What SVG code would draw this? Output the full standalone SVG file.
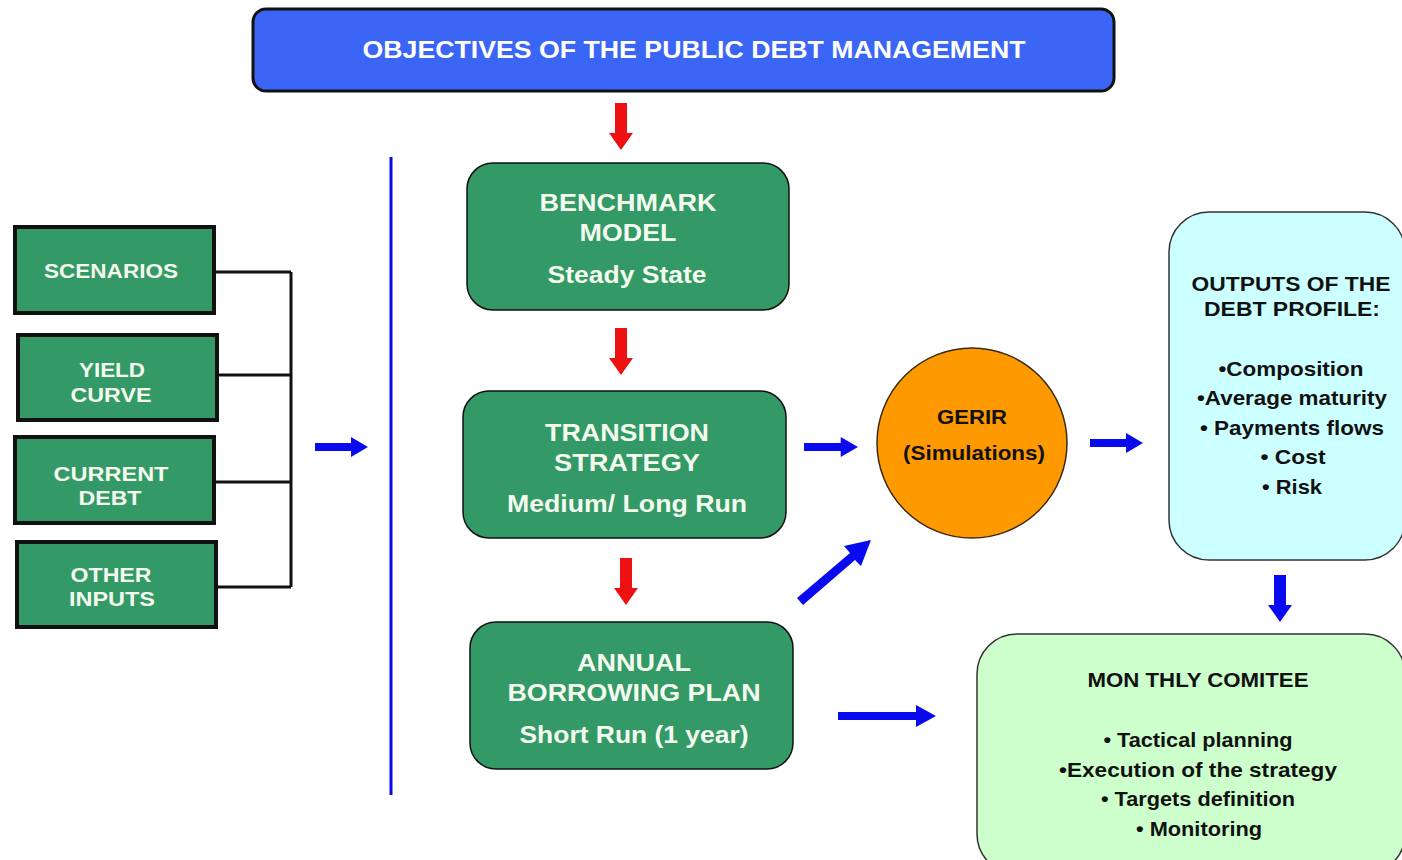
<svg xmlns="http://www.w3.org/2000/svg" width="1402" height="860" viewBox="0 0 1402 860">
  <style>
    .t { font-family: "Liberation Sans", Arial, sans-serif; font-weight: bold; text-anchor: middle; }
    .w { fill: #f4fbee; }
    .k { fill: #111; }
    .green { fill: #339966; stroke: #111; }
    .inbox { stroke-width: 4; }
    .stage { stroke-width: 1.5; }
    .blue { fill: #0a0aee; }
    .red { fill: #ee1111; }
  </style>
  <defs>
    <!-- block arrow pointing right, origin at tail centre, length 50 -->
    <polygon id="arrowR" points="0,-4 34,-4 34,-10 50,0 34,10 34,4 0,4"/>
    <!-- block arrow pointing down, origin at tail centre, length 47 -->
    <polygon id="arrowD" points="-6,0 6,0 6,30 12,30 0,47 -12,30 -6,30"/>
  </defs>
  <rect width="1402" height="860" fill="#ffffff"/>

  <g id="objectives">
    <rect x="253" y="9" width="861" height="82" rx="13" fill="#3b66f5" stroke="#111" stroke-width="3"/>
    <text class="t" x="694" y="58" font-size="24" fill="#ffffff" textLength="663" lengthAdjust="spacingAndGlyphs">OBJECTIVES OF THE PUBLIC DEBT MANAGEMENT</text>
  </g>

  <g id="scenarios">
    <rect class="green inbox" x="15" y="227" width="199" height="86"/>
    <text class="t w" x="111" y="278" font-size="21" textLength="134" lengthAdjust="spacingAndGlyphs">SCENARIOS</text>
  </g>
  <g id="yield-curve">
    <rect class="green inbox" x="18" y="335" width="199" height="85"/>
    <text class="t w" x="112" y="377" font-size="21" textLength="66" lengthAdjust="spacingAndGlyphs">YIELD</text>
    <text class="t w" x="111" y="402" font-size="21" textLength="81" lengthAdjust="spacingAndGlyphs">CURVE</text>
  </g>
  <g id="current-debt">
    <rect class="green inbox" x="15" y="437" width="199" height="86"/>
    <text class="t w" x="111" y="481" font-size="21" textLength="115" lengthAdjust="spacingAndGlyphs">CURRENT</text>
    <text class="t w" x="110" y="505" font-size="21" textLength="63" lengthAdjust="spacingAndGlyphs">DEBT</text>
  </g>
  <g id="other-inputs">
    <rect class="green inbox" x="17" y="542" width="199" height="85"/>
    <text class="t w" x="111" y="582" font-size="21" textLength="81" lengthAdjust="spacingAndGlyphs">OTHER</text>
    <text class="t w" x="112" y="606" font-size="21" textLength="86" lengthAdjust="spacingAndGlyphs">INPUTS</text>
  </g>

  <g id="benchmark">
    <rect class="green stage" x="467" y="163" width="322" height="147" rx="26"/>
    <text class="t w" x="628" y="211" font-size="24" textLength="177" lengthAdjust="spacingAndGlyphs">BENCHMARK</text>
    <text class="t w" x="628" y="241" font-size="24" textLength="97" lengthAdjust="spacingAndGlyphs">MODEL</text>
    <text class="t w" x="627" y="283" font-size="24" textLength="159" lengthAdjust="spacingAndGlyphs">Steady State</text>
  </g>
  <g id="transition">
    <rect class="green stage" x="463" y="391" width="323" height="147" rx="26"/>
    <text class="t w" x="627" y="441" font-size="24" textLength="164" lengthAdjust="spacingAndGlyphs">TRANSITION</text>
    <text class="t w" x="627" y="471" font-size="24" textLength="146" lengthAdjust="spacingAndGlyphs">STRATEGY</text>
    <text class="t w" x="627" y="512" font-size="24" textLength="240" lengthAdjust="spacingAndGlyphs">Medium/ Long Run</text>
  </g>
  <g id="annual-plan">
    <rect class="green stage" x="470" y="622" width="323" height="147" rx="26"/>
    <text class="t w" x="634" y="671" font-size="24" textLength="114" lengthAdjust="spacingAndGlyphs">ANNUAL</text>
    <text class="t w" x="634" y="701" font-size="24" textLength="253" lengthAdjust="spacingAndGlyphs">BORROWING PLAN</text>
    <text class="t w" x="634" y="743" font-size="24" textLength="229" lengthAdjust="spacingAndGlyphs">Short Run (1 year)</text>
  </g>

  <g id="gerir">
    <circle cx="972" cy="443" r="95" fill="#ff9900" stroke="#3a2a10" stroke-width="1.5"/>
    <text class="t k" x="972" y="424" font-size="21" textLength="70" lengthAdjust="spacingAndGlyphs">GERIR</text>
    <text class="t k" x="974" y="460" font-size="21" textLength="142" lengthAdjust="spacingAndGlyphs">(Simulations)</text>
  </g>

  <g id="outputs">
    <rect x="1169" y="212" width="236" height="348" rx="40" fill="#ccffff" stroke="#333" stroke-width="1.5"/>
    <text class="t k" x="1291" y="291" font-size="21" textLength="199" lengthAdjust="spacingAndGlyphs">OUTPUTS OF THE</text>
    <text class="t k" x="1292" y="316" font-size="21" textLength="176" lengthAdjust="spacingAndGlyphs">DEBT PROFILE:</text>
    <text class="t k" x="1291" y="376" font-size="21" textLength="145" lengthAdjust="spacingAndGlyphs">•Composition</text>
    <text class="t k" x="1292" y="405" font-size="21" textLength="190" lengthAdjust="spacingAndGlyphs">•Average maturity</text>
    <text class="t k" x="1292" y="435" font-size="21" textLength="184" lengthAdjust="spacingAndGlyphs">• Payments flows</text>
    <text class="t k" x="1293" y="464" font-size="21" textLength="65" lengthAdjust="spacingAndGlyphs">• Cost</text>
    <text class="t k" x="1292" y="494" font-size="21" textLength="60" lengthAdjust="spacingAndGlyphs">• Risk</text>
  </g>

  <g id="monthly-comitee">
    <rect x="977" y="634" width="428" height="240" rx="40" fill="#ccffcc" stroke="#333" stroke-width="1.5"/>
    <text class="t k" x="1198" y="687" font-size="21" textLength="221" lengthAdjust="spacingAndGlyphs">MON THLY COMITEE</text>
    <text class="t k" x="1198" y="747" font-size="21" textLength="189" lengthAdjust="spacingAndGlyphs">• Tactical planning</text>
    <text class="t k" x="1198" y="777" font-size="21" textLength="278" lengthAdjust="spacingAndGlyphs">•Execution of the strategy</text>
    <text class="t k" x="1198" y="806" font-size="21" textLength="194" lengthAdjust="spacingAndGlyphs">• Targets definition</text>
    <text class="t k" x="1199" y="836" font-size="21" textLength="126" lengthAdjust="spacingAndGlyphs">• Monitoring</text>
  </g>

  <g id="connectors">
    <!-- bracket joining the four inputs -->
    <path d="M214,272 H291 M217,375 H291 M214,482 H291 M216,587 H291 M291,272 V587" fill="none" stroke="#111" stroke-width="3"/>
    <!-- divider between inputs and models -->
    <line x1="391" y1="157" x2="391" y2="795" stroke="#0a0aee" stroke-width="3"/>
    <!-- down flow of the models -->
    <use href="#arrowD" class="red" x="621" y="103"/>
    <use href="#arrowD" class="red" x="621" y="328"/>
    <use href="#arrowD" class="red" x="626" y="558"/>
    <!-- blue flow -->
    <use href="#arrowR" class="blue" x="315" y="447" transform="translate(315 447) scale(1.06 1) translate(-315 -447)"/>
    <use href="#arrowR" class="blue" x="804" y="447" transform="translate(804 447) scale(1.08 1) translate(-804 -447)"/>
    <use href="#arrowR" class="blue" x="1090" y="443" transform="translate(1090 443) scale(1.06 1) translate(-1090 -443)"/>
    <polygon class="blue" points="838,712 916,712 916,705 936,716 916,727 916,720 838,720"/>
    <polygon class="blue" points="797,598 850,553 844,546 871,540 861,566 855,560 803,605"/>
    <use href="#arrowD" class="blue" x="1280" y="575"/>
  </g>
</svg>
